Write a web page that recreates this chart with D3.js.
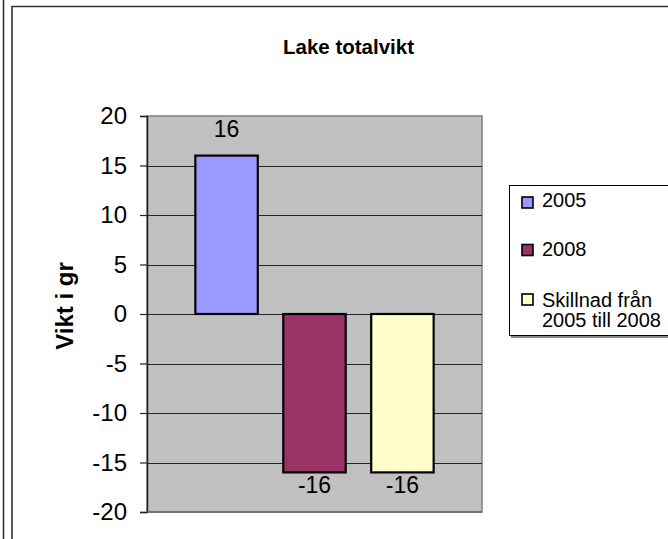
<!DOCTYPE html>
<html>
<head>
<meta charset="utf-8">
<script src="https://cdn.jsdelivr.net/npm/d3@7"></script>
<style>
  html, body { margin: 0; padding: 0; background: #fff; }
  svg { display: block; font-family: "Liberation Sans", Arial, sans-serif; }
</style>
</head>
<body>
<svg id="chart" width="668" height="539"></svg>
<script>
// Lake totalvikt – weight change per year
const categories = ["Lake"];
const seriesNames = ["2005", "2008", "Skillnad från 2005 till 2008"];
const seriesValues = [16, -16, -16];
const seriesColors = ["#9999FF", "#993366", "#FFFFCC"];
const yTicks = [-20, -15, -10, -5, 0, 5, 10, 15, 20];
const chartTitle = "Lake totalvikt";
const yAxisTitle = "Vikt i gr";

const svg = d3.select("#chart");

// outer frame lines
svg.append("line").attr("x1", 3.5).attr("x2", 3.5).attr("y1", 0).attr("y2", 539)
  .attr("stroke", "#333").attr("stroke-width", 1.6);
svg.append("path").attr("d", "M12,539 V6.5 H668")
  .attr("fill", "none").attr("stroke", "#333").attr("stroke-width", 1.6);

const plot = { left: 147, right: 482, top: 116, bottom: 512 };

const y = d3.scaleLinear().domain([-20, 20]).range([plot.bottom, plot.top]);
const x = d3.scaleBand().domain(seriesNames)
  .range([plot.left, plot.right]).paddingInner(0.29).paddingOuter(0.55);

// plot area background
svg.append("rect")
  .attr("x", plot.left).attr("y", plot.top)
  .attr("width", plot.right - plot.left).attr("height", plot.bottom - plot.top)
  .attr("fill", "#C0C0C0").attr("stroke", "#808080").attr("stroke-width", 1.5);

// horizontal gridlines
svg.append("g").selectAll("line").data(yTicks.filter(t => t > -20 && t < 20)).join("line")
  .attr("x1", plot.left).attr("x2", plot.right)
  .attr("y1", d => Math.round(y(d)) + 0.5).attr("y2", d => Math.round(y(d)) + 0.5)
  .attr("stroke", "#222").attr("stroke-width", 1);

// y axis (plain hyphen-minus for negative labels)
const yAxis = d3.axisLeft(y).tickValues(yTicks).tickSize(7).tickPadding(13)
  .tickFormat(d => String(d));
const gy = svg.append("g").attr("transform", `translate(${plot.left},0)`).call(yAxis);
gy.select(".domain").attr("stroke", "#222").attr("stroke-width", 1.5);
gy.selectAll(".tick line").attr("stroke", "#222").attr("stroke-width", 1.2);
gy.selectAll(".tick text").attr("font-size", 24).attr("fill", "#000")
  .attr("font-family", "Liberation Sans, Arial, sans-serif");

// bottom edge of the plot
svg.append("line").attr("x1", plot.left).attr("x2", plot.right)
  .attr("y1", plot.bottom).attr("y2", plot.bottom)
  .attr("stroke", "#666").attr("stroke-width", 1.5);

// bars
const data = seriesNames.map((s, i) => ({ name: s, value: seriesValues[i], color: seriesColors[i] }));
svg.append("g").selectAll("rect").data(data).join("rect")
  .attr("x", d => x(d.name))
  .attr("width", x.bandwidth())
  .attr("y", d => y(Math.max(0, d.value)))
  .attr("height", d => Math.abs(y(d.value) - y(0)))
  .attr("fill", d => d.color)
  .attr("stroke", "#000").attr("stroke-width", 2.2);

// value labels
svg.append("g").selectAll("text").data(data).join("text")
  .attr("x", d => x(d.name) + x.bandwidth() / 2)
  .attr("y", d => d.value >= 0 ? y(d.value) - 19 : y(d.value) + 21)
  .attr("text-anchor", "middle")
  .attr("font-size", 23)
  .attr("fill", "#000")
  .text(d => String(d.value));

// title
svg.append("text").attr("x", 348.5).attr("y", 54)
  .attr("text-anchor", "middle").attr("font-size", 20.5).attr("font-weight", "bold")
  .text(chartTitle);

// y axis title
svg.append("text")
  .attr("transform", "translate(73,306) rotate(-90)")
  .attr("text-anchor", "middle").attr("font-size", 24).attr("font-weight", "bold")
  .text(yAxisTitle);

// legend
const legend = svg.append("g");
legend.append("rect").attr("x", 511).attr("y", 187).attr("width", 170).attr("height", 151)
  .attr("fill", "#888");
legend.append("rect").attr("x", 509.5).attr("y", 185.5).attr("width", 170).attr("height", 150)
  .attr("fill", "#fff").attr("stroke", "#000").attr("stroke-width", 1);

const legendRows = [
  { lines: ["2005"], swatchY: 197 },
  { lines: ["2008"], swatchY: 244.5 },
  { lines: ["Skillnad från", "2005 till 2008"], swatchY: 294 }
];
const legendBaselines = [[207], [256], [306.5, 327]];
legendRows.forEach((row, i) => {
  legend.append("rect").attr("x", 522).attr("y", row.swatchY)
    .attr("width", 11).attr("height", 11)
    .attr("fill", seriesColors[i]).attr("stroke", "#000").attr("stroke-width", 1.6);
  row.lines.forEach((ln, j) => {
    legend.append("text").attr("x", 542).attr("y", legendBaselines[i][j])
      .attr("font-size", 20).attr("fill", "#000").text(ln);
  });
});
</script>
</body>
</html>
